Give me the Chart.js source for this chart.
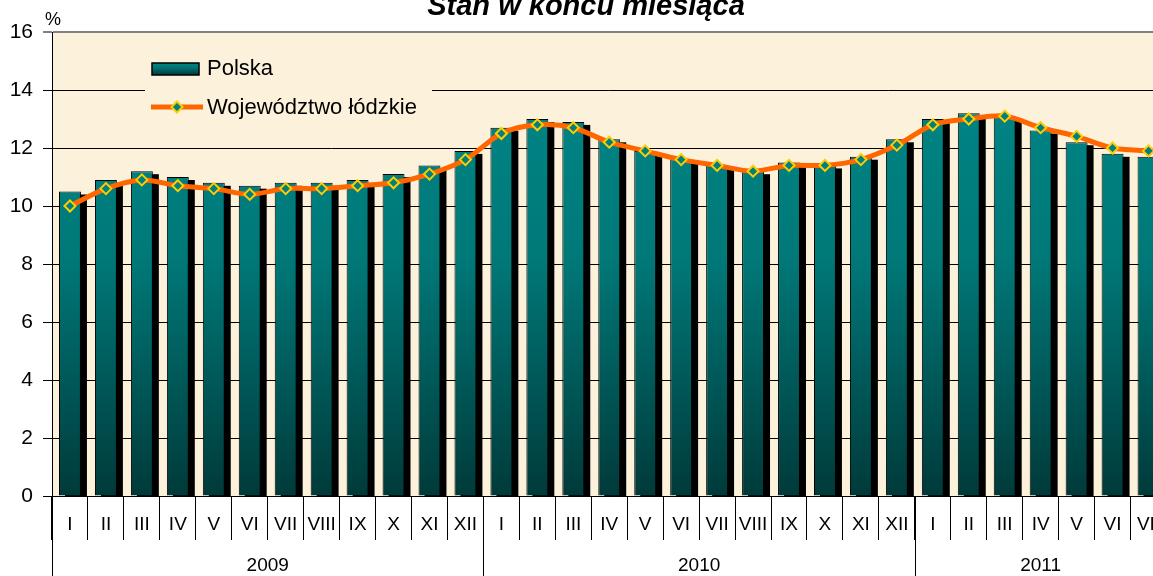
<!DOCTYPE html>
<html>
<head>
<meta charset="utf-8">
<title>Stan w końcu miesiąca</title>
<script src="https://cdn.jsdelivr.net/npm/chart.js"></script>
<style>
  html, body { margin: 0; padding: 0; overflow: hidden; background: #fff; }
  canvas { display: block; }
</style>
</head>
<body>
<canvas id="chart" width="1174" height="576"></canvas>
<script>
// categories
const monthLabels = [
  'I', 'II', 'III', 'IV', 'V', 'VI', 'VII', 'VIII', 'IX', 'X', 'XI', 'XII',
  'I', 'II', 'III', 'IV', 'V', 'VI', 'VII', 'VIII', 'IX', 'X', 'XI', 'XII',
  'I', 'II', 'III', 'IV', 'V', 'VI', 'VII'
];
const yearLabels = ['2009', '2010', '2011'];
const yearLengths = [12, 12, 7];

// stopa bezrobocia, %
const polska = [
  10.5, 10.9, 11.2, 11.0, 10.8, 10.7, 10.8, 10.8, 10.9, 11.1, 11.4, 11.9,
  12.7, 13.0, 12.9, 12.3, 11.9, 11.6, 11.4, 11.2, 11.5, 11.4, 11.7, 12.3,
  13.0, 13.2, 13.1, 12.6, 12.2, 11.8, 11.7
];
const lodzkie = [
  10.0, 10.6, 10.9, 10.7, 10.6, 10.4, 10.6, 10.6, 10.7, 10.8, 11.1, 11.6,
  12.5, 12.8, 12.7, 12.2, 11.9, 11.6, 11.4, 11.2, 11.4, 11.4, 11.6, 12.1,
  12.8, 13.0, 13.1, 12.7, 12.4, 12.0, 11.9
];

const FONT = '"Liberation Sans", Arial, sans-serif';

let barGrad = null;
function tealGradient(ctx, top, bottom) {
  const g = ctx.createLinearGradient(0, top, 0, bottom);
  g.addColorStop(0, '#008282');
  g.addColorStop(0.35, '#007878');
  g.addColorStop(1, '#003a3a');
  return g;
}

// background, bar shadows, title, year row and legend
const decor = {
  id: 'decor',
  beforeDraw(chart) {
    const { ctx, chartArea: a } = chart;
    ctx.save();
    ctx.fillStyle = '#fcf1da';
    ctx.fillRect(a.left, a.top, a.right - a.left, a.bottom - a.top);
    ctx.restore();
  },
  beforeDatasetDraw(chart, args) {
    if (args.meta.type !== 'bar') return;
    // black drop shadow behind each bar (bar element clips its own canvas shadow)
    const { ctx, chartArea: a } = chart;
    ctx.save();
    ctx.beginPath();
    ctx.rect(a.left, a.top, a.right - a.left, a.bottom - a.top);
    ctx.clip();
    ctx.fillStyle = '#000';
    args.meta.data.forEach((bar) => {
      const p = bar.getProps(['x', 'y', 'width', 'base'], true);
      ctx.fillRect(p.x - p.width / 2 + 6, p.y + 3, p.width, p.base - p.y);
    });
    ctx.restore();
  },
  afterDraw(chart) {
    const { ctx, chartArea: a } = chart;
    const x = chart.scales.x;
    ctx.save();

    // title (top is cut off in the original)
    ctx.fillStyle = '#000';
    ctx.font = 'italic bold 29px ' + FONT;
    ctx.textAlign = 'center';
    ctx.textBaseline = 'alphabetic';
    ctx.fillText('Stan w końcu miesiąca', 586, 15);

    // unit
    ctx.font = '18px ' + FONT;
    ctx.textBaseline = 'middle';
    ctx.fillText('%', 53, 20);

    // year row
    const half = (x.getPixelForValue(1) - x.getPixelForValue(0)) / 2;
    ctx.strokeStyle = '#000';
    ctx.lineWidth = 1;
    ctx.font = '19px ' + FONT;
    let start = 0;
    yearLabels.forEach((yr, i) => {
      const end = start + yearLengths[i] - 1;
      const left = x.getPixelForValue(start) - half;
      const right = x.getPixelForValue(end) + half;
      const lx = Math.round(left) + 0.5;
      ctx.beginPath();
      ctx.moveTo(lx, a.bottom);
      ctx.lineTo(lx, chart.height);
      ctx.stroke();
      ctx.fillText(yr, (left + right) / 2, 566);
      start = end + 1;
    });

    // legend inside the plot
    const bars = chart.data.datasets[0];
    const line = chart.data.datasets[1];
    ctx.fillStyle = '#fcf1da';
    ctx.fillRect(145, 46, 287, 78);

    ctx.fillStyle = tealGradient(ctx, 63, 75);
    ctx.fillRect(152, 63, 47, 12);
    ctx.strokeStyle = '#000';
    ctx.lineWidth = 1.5;
    ctx.strokeRect(152, 63, 47, 12);

    ctx.strokeStyle = line.borderColor;
    ctx.lineWidth = 5;
    ctx.beginPath();
    ctx.moveTo(151, 107);
    ctx.lineTo(203, 107);
    ctx.stroke();
    ctx.beginPath();
    ctx.moveTo(177, 101.5);
    ctx.lineTo(182.5, 107);
    ctx.lineTo(177, 112.5);
    ctx.lineTo(171.5, 107);
    ctx.closePath();
    ctx.fillStyle = line.pointBackgroundColor;
    ctx.fill();
    ctx.strokeStyle = line.pointBorderColor;
    ctx.lineWidth = 2;
    ctx.stroke();

    ctx.fillStyle = '#000';
    ctx.font = '22px ' + FONT;
    ctx.textAlign = 'left';
    ctx.textBaseline = 'middle';
    ctx.fillText(bars.label, 207, 69);
    ctx.fillText(line.label, 207, 108);

    ctx.restore();
  }
};

const ctx = document.getElementById('chart').getContext('2d');
new Chart(ctx, {
  type: 'bar',
  data: {
    labels: monthLabels,
    datasets: [{
      type: 'bar',
      label: 'Polska',
      data: polska,
      order: 1,
      backgroundColor: (c) => {
        const a = c.chart.chartArea;
        if (!a) return '#008080';
        if (!barGrad) barGrad = tealGradient(c.chart.ctx, a.top + 100, a.bottom);
        return barGrad;
      },
      borderColor: '#000',
      borderWidth: 1,
      barPercentage: 0.61,
      categoryPercentage: 1.0
    }, {
      type: 'line',
      label: 'Województwo łódzkie',
      data: lodzkie,
      order: 0,
      borderColor: '#ff6600',
      borderWidth: 5,
      tension: 0.3,
      pointStyle: 'rectRot',
      pointRadius: 5.5,
      pointBorderWidth: 2,
      pointBorderColor: '#ffcc00',
      pointBackgroundColor: '#008080'
    }]
  },
  options: {
    responsive: false,
    animation: false,
    devicePixelRatio: 1,
    layout: { padding: { top: 32, right: 0, left: 0, bottom: 0 } },
    plugins: {
      legend: { display: false },
      tooltip: { enabled: false },
      title: { display: false }
    },
    scales: {
      x: {
        afterFit: (s) => { s.height = 80; },
        grid: {
          offset: true,
          drawOnChartArea: false,
          drawTicks: true,
          tickLength: 44,
          color: '#000',
          lineWidth: 1
        },
        border: { color: '#000', width: 1 },
        ticks: {
          autoSkip: false,
          maxRotation: 0,
          padding: -27,
          color: '#000',
          font: { family: FONT, size: 19 }
        }
      },
      y: {
        min: 0,
        max: 16,
        afterFit: (s) => { s.width = 52; },
        grid: {
          color: (c) => c.tick && c.tick.value === 16 ? '#808080' : '#000',
          lineWidth: (c) => c.tick && c.tick.value === 16 ? 2 : 1,
          tickLength: 9
        },
        border: { color: '#000', width: 1 },
        ticks: {
          stepSize: 2,
          padding: 10,
          color: '#000',
          font: { family: FONT, size: 21 }
        }
      }
    }
  },
  plugins: [decor]
});
</script>
</body>
</html>
